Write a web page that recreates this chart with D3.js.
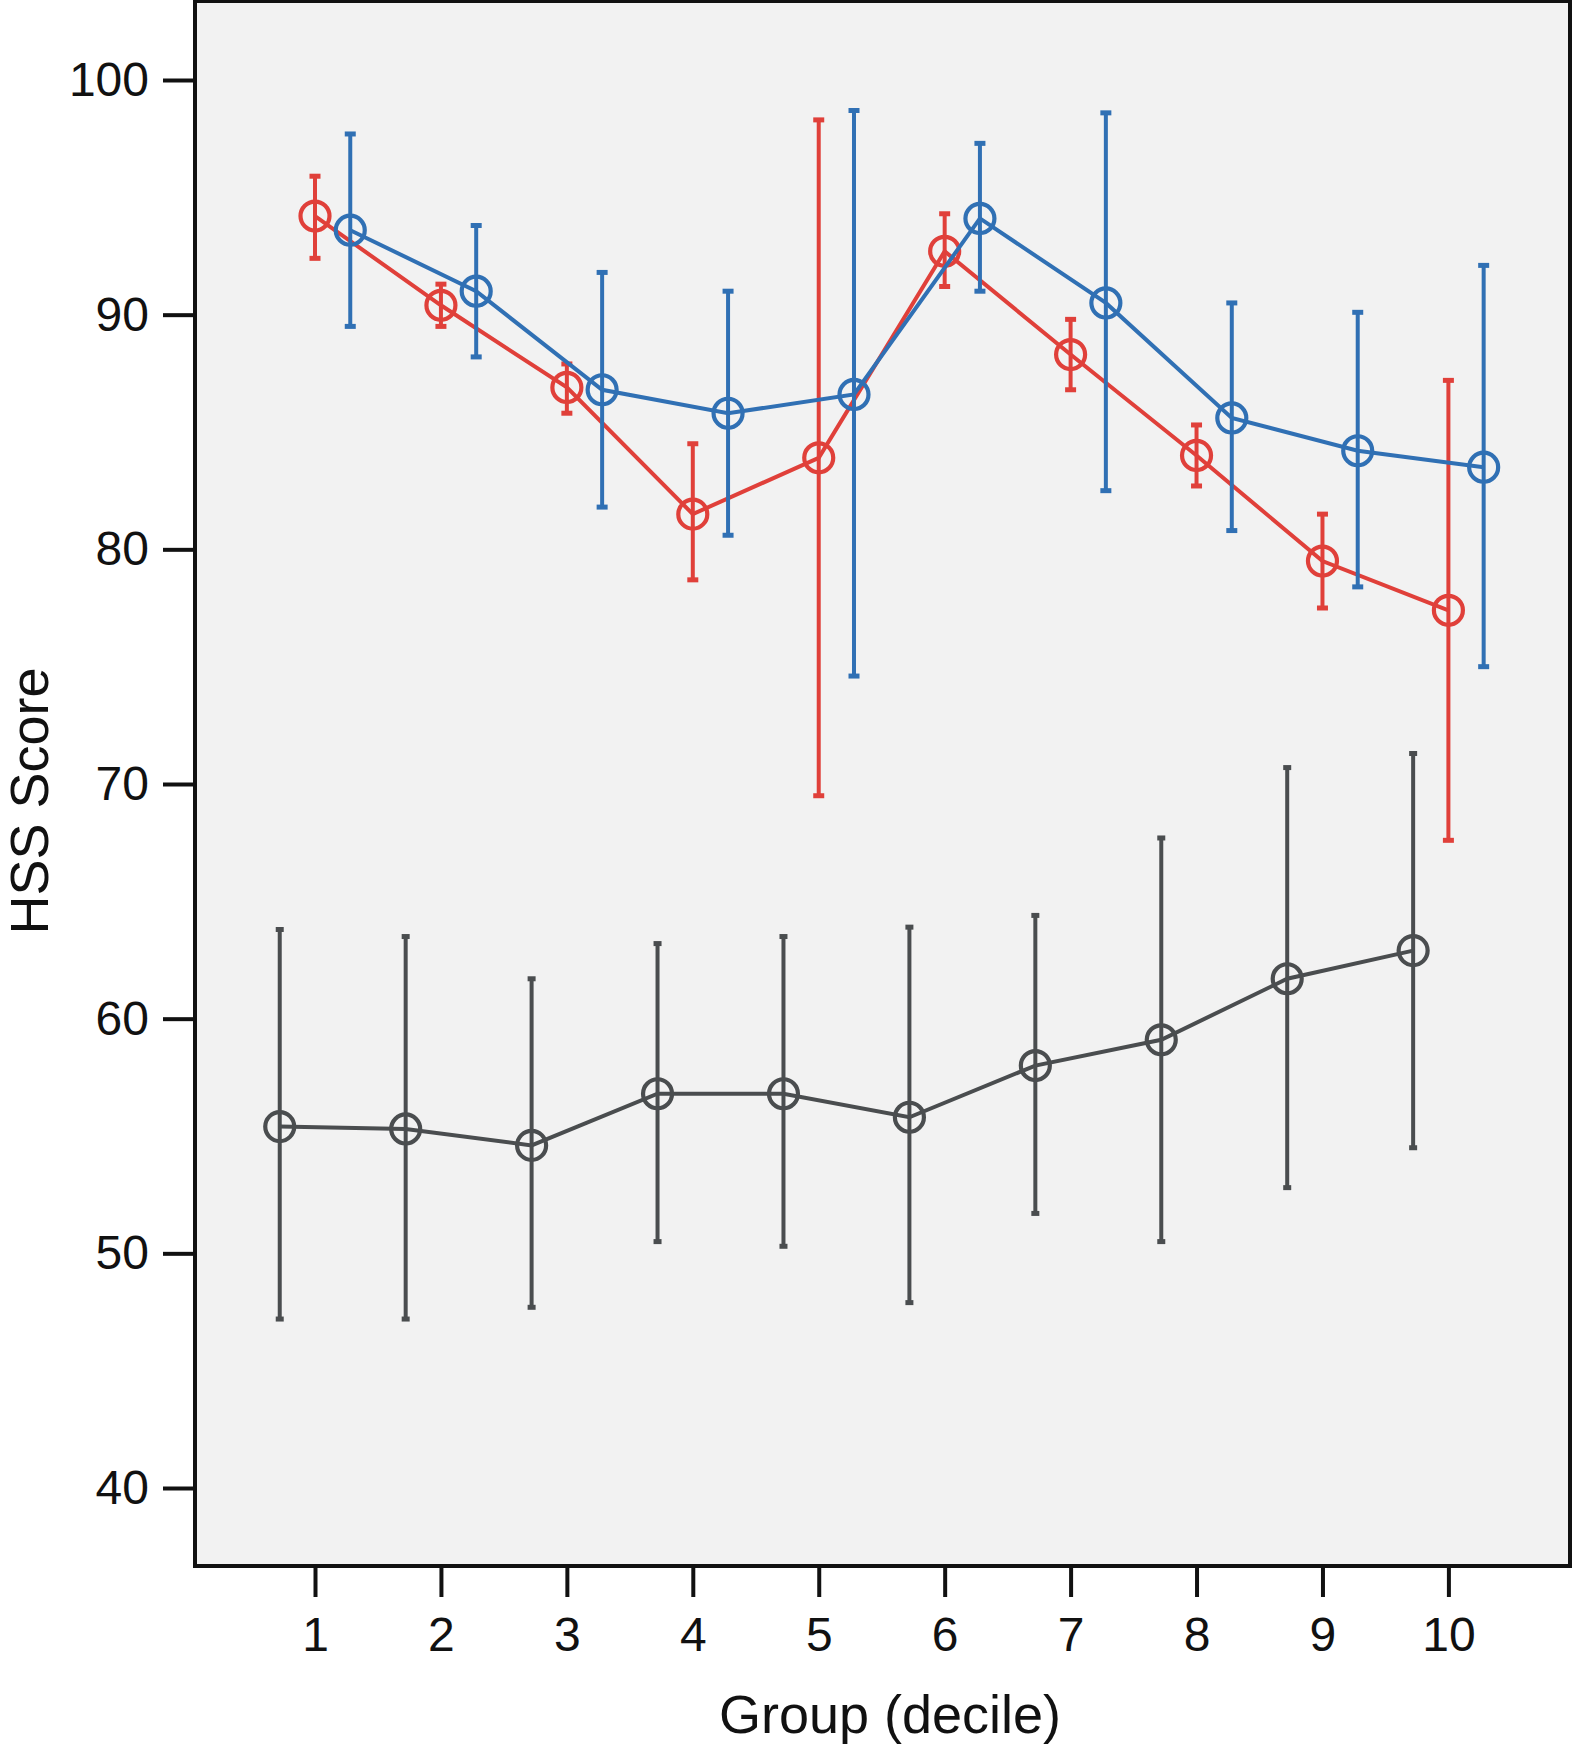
<!DOCTYPE html>
<html>
<head>
<meta charset="utf-8">
<script src="https://cdn.jsdelivr.net/npm/d3@7"></script>
<style>
  html, body { margin: 0; padding: 0; background: #fff; }
  svg { display: block; }
  text { font-family: "Liberation Sans", Arial, Helvetica, sans-serif; fill: #111; }
</style>
</head>
<body>
<svg id="chart" width="1572" height="1746"></svg>
<script>
// ---- data ----
const groups = [1, 2, 3, 4, 5, 6, 7, 8, 9, 10];
const yTicks = [40, 50, 60, 70, 80, 90, 100];

const redMean  = [94.2, 90.4, 86.9, 81.5, 83.9, 92.7, 88.3, 84.0, 79.5, 77.4];
const redHigh  = [95.9, 91.3, 87.9, 84.5, 98.3, 94.3, 89.8, 85.3, 81.5, 87.2];
const redLow   = [92.4, 89.5, 85.8, 78.7, 69.5, 91.2, 86.8, 82.7, 77.5, 67.6];

const blueMean = [93.6, 91.0, 86.8, 85.8, 86.6, 94.1, 90.5, 85.6, 84.2, 83.5];
const blueHigh = [97.7, 93.8, 91.8, 91.0, 98.7, 97.3, 98.6, 90.5, 90.1, 92.1];
const blueLow  = [89.5, 88.2, 81.8, 80.6, 74.6, 91.0, 82.5, 80.8, 78.4, 75.0];

const grayMean = [55.4, 55.3, 54.6, 56.8, 56.8, 55.8, 58.0, 59.1, 61.7, 62.9];
const grayHigh = [63.8, 63.5, 61.7, 63.2, 63.5, 63.9, 64.4, 67.7, 70.7, 71.3];
const grayLow  = [47.2, 47.2, 47.7, 50.5, 50.3, 47.9, 51.7, 50.5, 52.8, 54.5];

const seriesList = [
  { name: "gray", offset: -0.28, color: "#4a4d4f", mean: grayMean, high: grayHigh, low: grayLow, cap: 8 },
  { name: "red",  offset: 0,     color: "#e0403a", mean: redMean,  high: redHigh,  low: redLow,  cap: 11 },
  { name: "blue", offset: 0.28,  color: "#3070b4", mean: blueMean, high: blueHigh, low: blueLow, cap: 11 }
];

// ---- layout ----
const svg = d3.select("#chart");
const plot = { left: 195, right: 1570, top: 1, bottom: 1566 };

const x = d3.scaleLinear().domain([1, 10]).range([315, 1448.4]);
const y = d3.scaleLinear().domain([40, 100]).range([1488, 80]);

// background
svg.append("rect")
  .attr("x", plot.left).attr("y", plot.top)
  .attr("width", plot.right - plot.left).attr("height", plot.bottom - plot.top)
  .attr("fill", "#f2f2f2");

// axes
const yAxis = d3.axisLeft(y).tickValues(yTicks).tickSize(32).tickSizeOuter(0).tickPadding(14);
const gy = svg.append("g").attr("transform", `translate(${plot.left},0)`).call(yAxis);
gy.select(".domain").remove();
gy.selectAll("line").attr("stroke", "#111").attr("stroke-width", 4);
gy.selectAll("text").style("font-size", "48px").attr("fill", "#111");

const xAxis = d3.axisBottom(x).tickValues(groups).tickSize(31).tickSizeOuter(0).tickPadding(20);
const gx = svg.append("g").attr("transform", `translate(0,${plot.bottom})`).call(xAxis);
gx.select(".domain").remove();
gx.selectAll("line").attr("stroke", "#111").attr("stroke-width", 4);
gx.selectAll("text").style("font-size", "48px").attr("fill", "#111");

// series
const layer = svg.append("g");
seriesList.forEach(s => {
  const pts = groups.map((g, i) => ({ gx: g + s.offset, m: s.mean[i], hi: s.high[i], lo: s.low[i] }));
  const g = layer.append("g").attr("class", "series-" + s.name);
  // error bars
  g.selectAll("line.err").data(pts).join("line")
    .attr("class", "err")
    .attr("x1", d => x(d.gx)).attr("x2", d => x(d.gx))
    .attr("y1", d => y(d.hi)).attr("y2", d => y(d.lo))
    .attr("stroke", s.color).attr("stroke-width", 4);
  ["hi", "lo"].forEach(k => {
    g.selectAll("line.cap-" + k).data(pts).join("line")
      .attr("class", "cap-" + k)
      .attr("x1", d => x(d.gx) - s.cap / 2).attr("x2", d => x(d.gx) + s.cap / 2)
      .attr("y1", d => y(d[k])).attr("y2", d => y(d[k]))
      .attr("stroke", s.color).attr("stroke-width", 5);
  });
  // line
  const line = d3.line().x(d => x(d.gx)).y(d => y(d.m));
  g.append("path").datum(pts)
    .attr("d", line).attr("fill", "none")
    .attr("stroke", s.color).attr("stroke-width", 4);
  // markers
  g.selectAll("circle").data(pts).join("circle")
    .attr("cx", d => x(d.gx)).attr("cy", d => y(d.m)).attr("r", 14.5)
    .attr("fill", "none").attr("stroke", s.color).attr("stroke-width", 4.2);
});

// plot frame
svg.append("rect")
  .attr("x", plot.left).attr("y", plot.top)
  .attr("width", plot.right - plot.left).attr("height", plot.bottom - plot.top)
  .attr("fill", "none").attr("stroke", "#111").attr("stroke-width", 4);

// axis titles
svg.append("text")
  .attr("x", 890).attr("y", 1733)
  .attr("text-anchor", "middle")
  .style("font-size", "54px")
  .text("Group (decile)");

svg.append("text")
  .attr("transform", "translate(48,801) rotate(-90)")
  .attr("text-anchor", "middle")
  .style("font-size", "54px")
  .text("HSS Score");
</script>
</body>
</html>
